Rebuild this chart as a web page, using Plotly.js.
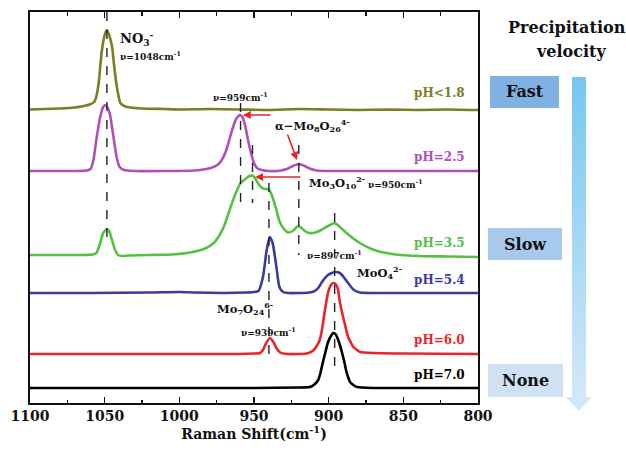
<!DOCTYPE html>
<html>
<head>
<meta charset="utf-8">
<script src="https://cdn.plot.ly/plotly-3.0.1.min.js"></script>
<style>html,body{margin:0;padding:0;background:#fff;}#chart{width:626px;height:452px;}</style>
</head>
<body>
<div id="chart"></div>
<script>
// ---- data (Raman shift in cm-1, stacked intensity in a.u.) ----
const seriesNames = ["pH<1.8", "pH=2.5", "pH=3.5", "pH=5.4", "pH=6.0", "pH=7.0"];
const seriesColors = ["#7d7d22", "#b04fb6", "#55c044", "#3a3aa2", "#e8262a", "#000000"];

const x_ph18 = [1100,1090,1080,1070,1064,1060,1057,1055.5,1054,1052,1050,1048.5,1047,1045,1043.5,1041.5,1039.5,1037,1033,1025,1010,1000,980,960,940,920,900,880,860,840,820,800];
const y_ph18 = [293.5,294,294.5,295.5,297,298.5,301,307,320,351,368,373,368,356,335,313,300,297,295.5,294.5,294,293.5,294,293.5,293,294,293.5,293,293.5,293,293.5,293];

const x_ph25 = [1100,1085,1070,1062,1059.5,1057.5,1055.5,1053,1051,1049.5,1048,1046.5,1044.5,1042,1040,1037,1030,1010,990,982,979,975,972,969,966,964,962,959.5,958,956,954,952,950,948,945,940,932,928,924,920,916,912,908,900,880,860,840,820,800];
const y_ph25 = [232,232,232,232.5,234,243,264,286,296,298,295,289,270,246,236,233,232,232,232.5,234,235,237.5,242,251,266,276,284,288,286.5,278,263,250,240,235,233,232,232.5,234,237,239,237,234,232.5,232,232,232,232,232,232];

const x_ph35 = [1100,1080,1065,1058,1055.5,1053,1051,1048.5,1047,1045.5,1043,1041,1038.5,1034,1020,1005,995,988,982,977,973,970,967,964,961,959,957,955,953,951,949,947,945,943,941,939,937,935,933,930,927,924,921,919,916,913,909,905,901,896,894,891,888,884,878,872,865,855,840,820,800];
const y_ph35 = [148,148,148,148.5,150,160,170,174,172,165,153,148,147,147.5,148,148.5,150,152,155,160,168,177,190,203,214,220,222.5,225,227,227.5,224,219,215.5,214,214,211,203,193,182,174,170.5,172,176.5,176,172,170,170.5,173,176.5,180,178,174,170,165,159,154.5,151,148.5,147,146.5,146];

const x_ph54 = [1100,1060,1020,1000,990,970,955,950,947,944,941.5,939.5,937.5,935,933,930.5,927,920,913,910,907,904.5,900.5,896,892.5,890,887.5,885,883,879,870,850,800];
const y_ph54 = [110,110,110.5,111,110.5,110,110.5,111,112,126,153,166,160,136,116,111,110,110,110.5,111.5,115,121,128,131,130,126,121,116,113,110.5,110,110,110];

const x_ph60 = [1100,1050,1000,960,950,946,944,942.5,939.5,937,935,932.5,928,920,915,912.5,910,908,906,904.5,902.5,900.5,898.5,897,895.5,894,892.5,890.5,889.5,887,885,883.5,881,879,870,850,800];
const y_ph60 = [49,49,49,49,49.5,50,53,58,65,61,55,50.5,49,49,49.5,50.5,53,57,63,73,93,110,118,120,119,115,101,87,81,66,60,56,53,51,50,49.5,49];

const x_ph70 = [1100,1000,950,920,912.5,910,907,905.5,904,902,900.4,898.5,897,895.5,894.4,892.5,891,889.5,888.4,887,885.7,883.5,881,870,850,800];
const y_ph70 = [15,15,15,15.5,16,18,23,30,40,52,61,67,70,69,66,58,50,41,33,26,21,18,16,15,15,15];

const seriesX = [x_ph18, x_ph25, x_ph35, x_ph54, x_ph60, x_ph70];
const seriesY = [y_ph18, y_ph25, y_ph35, y_ph54, y_ph60, y_ph70];
const labelY = [310, 246, 160, 123, 63, 28];

// dashed reference lines: position, top, bottom
const refX = [1048.5, 959, 951, 940, 920, 896];
const refTop = [391, 300, 258, 220, 258, 190];
const refBottom = [158, 200, 200, 41, 148, 30];

const velocityLabels = ["Fast", "Slow", "None"];
// ---------------------------------------------------------------

const FONT = "DejaVu Serif, serif";
const L = 30, R = 478, T = 12, B = 403;
const px = v => (v - L) / (R - L);
const py = v => (B - v) / (B - T);

const traces = seriesX.map((xs, i) => ({
  type: "scatter", mode: "lines", x: xs, y: seriesY[i],
  line: {color: seriesColors[i], width: 2.6, shape: "spline", smoothing: 0.5},
  hoverinfo: "skip", name: seriesNames[i]
}));

const shapes = [];
refX.forEach((xv, i) => {
  shapes.push({type: "line", xref: "x", yref: "y", x0: xv, x1: xv, y0: refTop[i], y1: refBottom[i],
    line: {color: "#222", width: 1.4, dash: "dash"}});
});

// velocity boxes
const boxes = [[490, 559, 76, 108, "#80b1e3"], [488, 562, 228, 260, "#a7c9ec"], [488, 563, 364, 397, "#cfe1f3"]];
boxes.forEach(b => shapes.push({type: "rect", xref: "paper", yref: "paper",
  x0: px(b[0]), x1: px(b[1]), y0: py(b[3]), y1: py(b[2]), fillcolor: b[4], line: {width: 0}, layer: "above"}));

// gradient arrow
const arrTop = 77, arrBot = 397, nSlices = 40;
const c0 = [118, 199, 240], c1 = [210, 231, 248];
for (let k = 0; k < nSlices; k++) {
  const t = k / (nSlices - 1);
  const c = c0.map((v, j) => Math.round(v + (c1[j] - v) * t));
  const ya = arrTop + (arrBot - arrTop) * k / nSlices, yb = arrTop + (arrBot - arrTop) * (k + 1) / nSlices + 0.6;
  shapes.push({type: "rect", xref: "paper", yref: "paper", x0: px(572), x1: px(586), y0: py(yb), y1: py(ya),
    fillcolor: `rgb(${c[0]},${c[1]},${c[2]})`, line: {width: 0}, layer: "above"});
}
shapes.push({type: "path", xref: "paper", yref: "paper",
  path: `M ${px(566)},${py(397)} L ${px(592)},${py(397)} L ${px(579)},${py(411)} Z`,
  fillcolor: "rgb(210,231,248)", line: {width: 0}, layer: "above"});

const ann = [];
const txt = (text, x, y, size, opts) => ann.push(Object.assign({text: text, x: x, y: y, xref: "x", yref: "y",
  showarrow: false, font: {family: FONT, size: size, color: "#111", weight: "bold"}, xanchor: "left", yanchor: "middle"}, opts || {}));

seriesNames.forEach((nm, i) => txt(nm, 807.5, labelY[i], 12, {xanchor: "right", font: {family: FONT, size: 12, color: seriesColors[i], weight: "bold"}}));

txt("NO<sub>3</sub><sup>-</sup>", 1041, 365, 13);
txt("ν=1048cm<sup>-1</sup>", 1041, 347, 9);
txt("ν=959cm<sup>-1</sup>", 959, 306, 9, {xanchor: "center"});
txt("α−Mo<sub>8</sub>O<sub>26</sub><sup>4-</sup>", 937.5, 278, 11.5);
txt("Mo<sub>3</sub>O<sub>10</sub><sup>2-</sup>", 914.5, 221, 11.5);
txt("ν=950cm<sup>-1</sup>", 875, 219, 9);
txt("ν=897cm<sup>-1</sup>", 896.4, 148, 9, {xanchor: "center"});
txt("MoO<sub>4</sub><sup>2-</sup>", 882.3, 131, 11.5);
txt("Mo<sub>7</sub>O<sub>24</sub><sup>6-</sup>", 976, 95, 11.5);
txt("ν=939cm<sup>-1</sup>", 940, 71, 9, {xanchor: "center"});

// red arrows (tip x,y ; tail ax,ay)
const arrows = [[957.5, 288, 938, 288], [921.2, 243, 927.9, 270], [949.3, 226, 917.9, 226]];
arrows.forEach(a => ann.push({x: a[0], y: a[1], ax: a[2], ay: a[3], xref: "x", yref: "y", axref: "x", ayref: "y",
  text: "", showarrow: true, arrowhead: 2, arrowsize: 1, arrowwidth: 1.6, arrowcolor: "#e8262a", standoff: 0, startstandoff: 0}));

// right panel texts
const ptxt = (text, x, y, size) => ann.push({text: text, x: px(x), y: py(y), xref: "paper", yref: "paper", showarrow: false,
  font: {family: FONT, size: size, color: "#111", weight: "bold"}, xanchor: "center", yanchor: "middle"});
ptxt("Precipitation", 567, 27, 16);
ptxt("velocity", 571, 52, 16);
ptxt(velocityLabels[0], 524.5, 92, 16);
ptxt(velocityLabels[1], 525, 244, 16);
ptxt(velocityLabels[2], 525.5, 380.5, 16);

const layout = {
  width: 626, height: 452,
  font: {family: FONT},
  margin: {l: L, r: 626 - R, t: T, b: 452 - B},
  paper_bgcolor: "#fff", plot_bgcolor: "#fff",
  showlegend: false,
  xaxis: {
    range: [1100, 800], autorange: false, dtick: 50, tick0: 800,
    ticks: "inside", ticklen: 6, tickwidth: 1.5, tickcolor: "#111",
    minor: {dtick: 25, ticks: "inside", ticklen: 3.5, tickwidth: 1.3, tickcolor: "#111"},
    showline: true, linecolor: "#111", linewidth: 1.6, mirror: "ticks",
    showgrid: false, zeroline: false,
    tickfont: {family: FONT, size: 14, color: "#111", weight: "bold"},
    title: {text: "Raman Shift(cm<sup>-1</sup>)", font: {family: FONT, size: 14, color: "#111", weight: "bold"}, standoff: 4},
    automargin: false
  },
  yaxis: {
    range: [0, 391], autorange: false, showticklabels: false, ticks: "",
    showline: true, linecolor: "#111", linewidth: 1.6, mirror: true,
    showgrid: false, zeroline: false, automargin: false
  },
  shapes: shapes,
  annotations: ann
};

Plotly.newPlot("chart", traces, layout, {staticPlot: true, displayModeBar: false});
</script>
</body>
</html>
